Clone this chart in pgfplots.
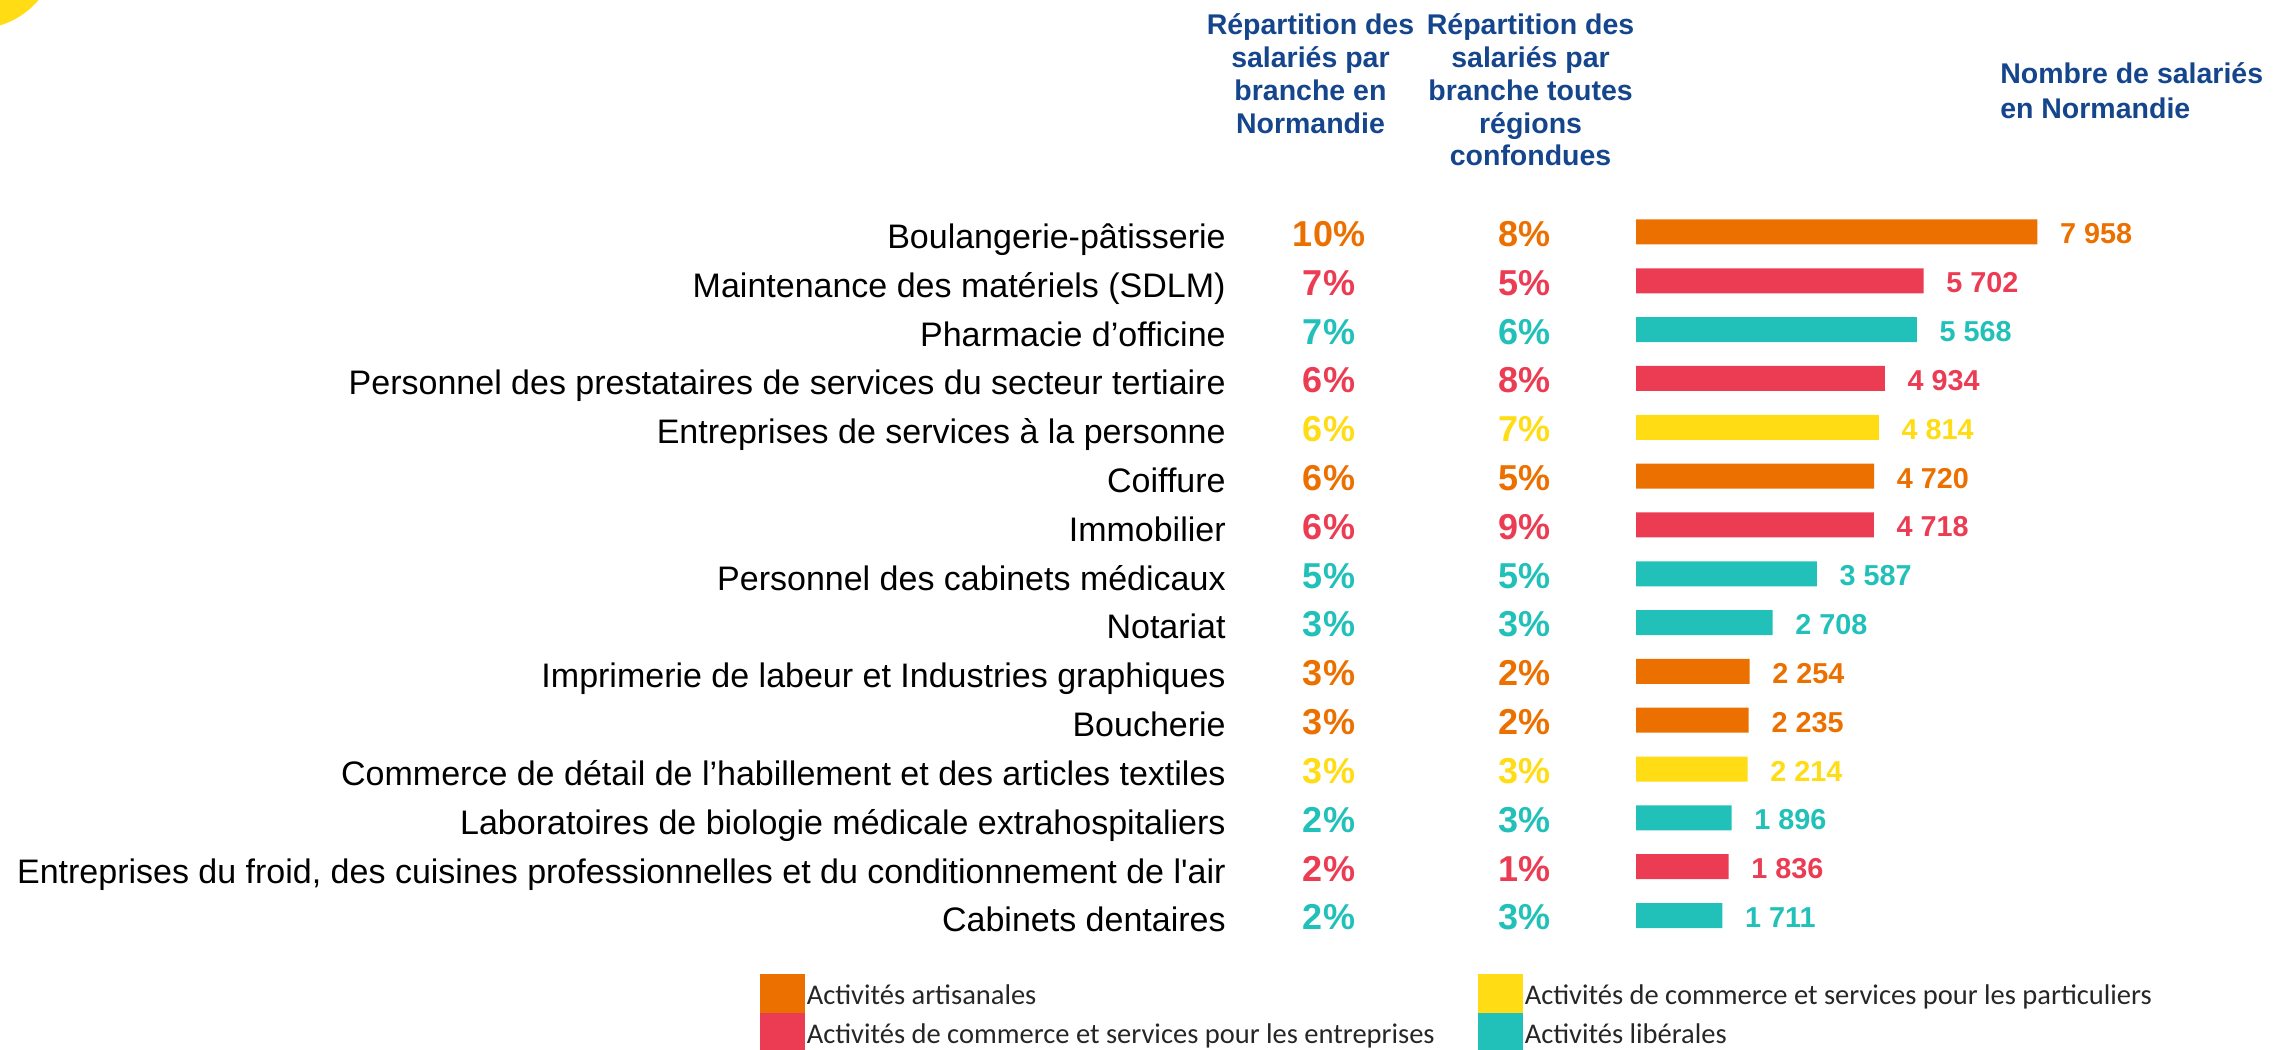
\documentclass[border=0pt]{standalone}
\usepackage{fontspec}
\setmainfont{Liberation Sans}
\newfontfamily\calibri{Carlito}
\usepackage{pgfplots}
\usepackage{pgfplotstable}
\pgfplotsset{compat=1.18}

\definecolor{artisan}{RGB}{236,112,0}
\definecolor{entrep}{RGB}{236,60,83}
\definecolor{partic}{RGB}{255,220,20}
\definecolor{liberal}{RGB}{33,193,185}
\definecolor{hdrblue}{RGB}{21,70,140}
\definecolor{legtext}{RGB}{38,38,38}

\newcommand\catfont{\fontsize{8.5bp}{10bp}\selectfont}
\newcommand\pctfont{\bfseries\fontsize{9bp}{11bp}\selectfont}
\newcommand\valfont{\bfseries\fontsize{7.2bp}{8.5bp}\selectfont}
\newcommand\hdrfont{\bfseries\fontsize{7.125bp}{8.2bp}\selectfont}
\newcommand\legfont{\calibri\fontsize{7.125bp}{8.5bp}\selectfont}

% row = position from the top, n = salariés en Normandie,
% p1 = part en Normandie, p2 = part toutes régions
\pgfplotstableread{
row n p1 p2
0 7958 10 8
5 4720 6 5
9 2254 3 2
10 2235 3 2
}\artisanales
\pgfplotstableread{
row n p1 p2
1 5702 7 5
3 4934 6 8
6 4718 6 9
13 1836 2 1
}\entreprises
\pgfplotstableread{
row n p1 p2
4 4814 6 7
11 2214 3 3
}\particuliers
\pgfplotstableread{
row n p1 p2
2 5568 7 6
7 3587 5 5
8 2708 3 3
12 1896 2 3
14 1711 2 3
}\liberales

% one group: bars with their values, then the two percentage columns
\newcommand\branche[2]{%
  \addplot[xbar, bar width=6.25bp, bar shift=0pt, fill=#2, draw=none,
    point meta=x, nodes near coords, nodes near coords align=horizontal,
    nodes near coords style={inner sep=0pt, xshift=5.5bp, yshift=-0.5bp, text=#2, font=\valfont}]
    table[x=n, y=row]{#1};
  \addplot[draw=none, point meta=explicit,
    nodes near coords={\pgfmathprintnumber{\pgfplotspointmeta}\%},
    nodes near coords style={anchor=base, inner sep=0pt, yshift=-3.6bp, text=#2, font=\pctfont}]
    table[x expr=-6088, y=row, meta=p1]{#1};
  \addplot[draw=none, point meta=explicit,
    nodes near coords={\pgfmathprintnumber{\pgfplotspointmeta}\%},
    nodes near coords style={anchor=base, inner sep=0pt, yshift=-3.6bp, text=#2, font=\pctfont}]
    table[x expr=-2221, y=row, meta=p2]{#1};
}

\begin{document}
\begin{tikzpicture}
\path[use as bounding box] (0,0) rectangle (568.5bp,262.5bp);
\begin{axis}[
  scale only axis, width=568.5bp, height=262.5bp,
  xmin=-32443, xmax=12652,
  ymin=-4.752, ymax=16.755, y dir=reverse,
  axis line style={draw=none}, tick style={draw=none},
  xtick=\empty, ytick={0,...,14},
  yticklabels={
    Boulangerie-pâtisserie,
    Maintenance des matériels (SDLM),
    Pharmacie d’officine,
    Personnel des prestataires de services du secteur tertiaire,
    Entreprises de services à la personne,
    Coiffure,
    Immobilier,
    Personnel des cabinets médicaux,
    Notariat,
    Imprimerie de labeur et Industries graphiques,
    Boucherie,
    {Commerce de détail de l’habillement et des articles textiles\ },
    Laboratoires de biologie médicale extrahospitaliers,
    {Entreprises du froid, des cuisines professionnelles et du conditionnement de l\textquotesingle air},
    Cabinets dentaires},
  yticklabel style={anchor=base east, inner sep=0pt, xshift=306.6bp, yshift=-4.1bp, font=\catfont},
  /pgf/number format/.cd, assume math mode=true, 1000 sep={\ }, fixed, precision=0,
  /pgfplots/.cd,
  clip=false,
]
\branche{\artisanales}{artisan}
\branche{\entreprises}{entrep}
\branche{\particuliers}{partic}
\branche{\liberales}{liberal}
\end{axis}

% headers, legend and the corner ornament, in pixels from the top left
\begin{scope}[x=0.25bp, y=-0.25bp, shift={(0,262.5bp)}]
  \begin{scope}
    \clip (0,0) rectangle (2274,1050);
    \fill[partic] (-24,-53) circle[radius=82];
  \end{scope}
  \node[anchor=north, align=center, inner sep=0pt, font=\hdrfont, text=hdrblue]
    at (1310.5,13) {Répartition des\\salariés par\\branche en\\Normandie};
  \node[anchor=north, align=center, inner sep=0pt, font=\hdrfont, text=hdrblue]
    at (1530.6,13) {Répartition des\\salariés par\\branche toutes\\régions\\confondues};
  \node[anchor=north west, align=left, inner sep=0pt, font=\hdrfont, text=hdrblue]
    at (1999.5,62) {Nombre de salariés\\[0.5bp]en Normandie};

  \fill[artisan] (760,974) rectangle (805,1013);
  \fill[entrep] (760,1013) rectangle (805,1050);
  \fill[partic] (1478,974) rectangle (1523,1013);
  \fill[liberal] (1478,1013) rectangle (1523,1050);
  \node[anchor=base west, inner sep=0pt, font=\legfont, text=legtext] at (806,1005) {Activités artisanales};
  \node[anchor=base west, inner sep=0pt, font=\legfont, text=legtext] at (806,1043.3) {Activités de commerce et services pour les entreprises};
  \node[anchor=base west, inner sep=0pt, font=\legfont, text=legtext] at (1524,1005) {Activités de commerce et services pour les particuliers};
  \node[anchor=base west, inner sep=0pt, font=\legfont, text=legtext] at (1524,1043.3) {Activités libérales};
\end{scope}
\end{tikzpicture}
\end{document}
